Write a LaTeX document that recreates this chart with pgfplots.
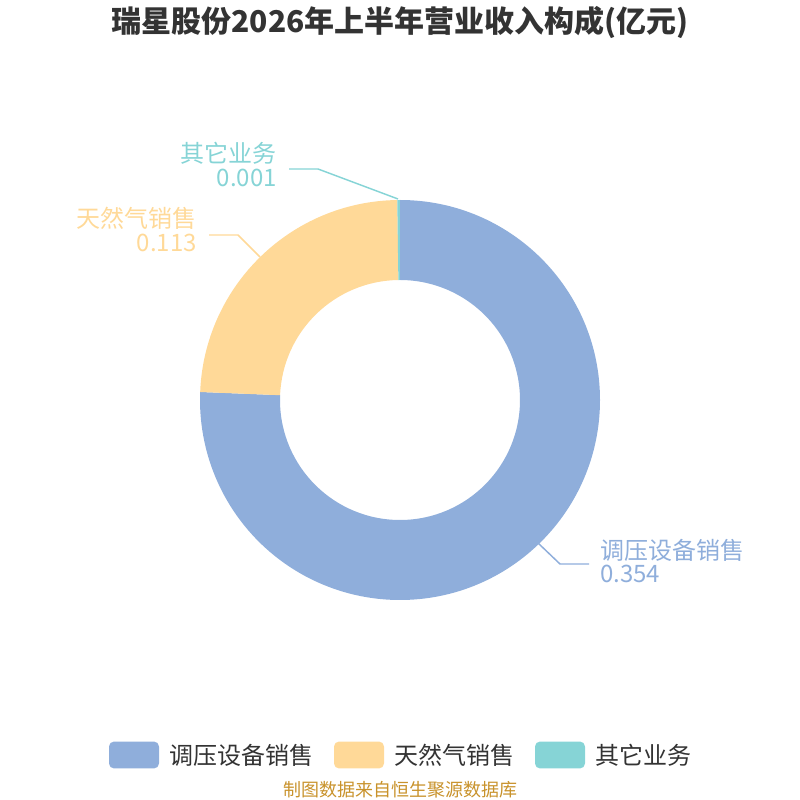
\documentclass[border=0pt]{standalone}
\usepackage{pgfplots}
\pgfplotsset{compat=1.18}
\usepackage{pgfplotstable}
\usepackage{fontspec}
\setmainfont{Noto Sans CJK SC}
\definecolor{cA}{HTML}{8FAEDB}
\definecolor{cB}{HTML}{FFD998}
\definecolor{cC}{HTML}{86D4D6}
\definecolor{txt}{HTML}{333333}
\definecolor{src}{HTML}{C8922B}
\pgfplotstableread{
idx value
0 0.354
1 0.113
2 0.001
}\datatable
\begin{document}
\begin{tikzpicture}
\pgfplotstablegetelem{0}{value}\of\datatable \let\va\pgfplotsretval
\pgfplotstablegetelem{1}{value}\of\datatable \let\vb\pgfplotsretval
\pgfplotstablegetelem{2}{value}\of\datatable \let\vc\pgfplotsretval
\pgfmathsetmacro\tot{\va+\vb+\vc}
\pgfmathsetmacro\aA{90}
\pgfmathsetmacro\aB{90-360*\va/\tot}
\pgfmathsetmacro\aC{\aB-360*\vb/\tot}
\pgfmathsetmacro\aD{\aC-360*\vc/\tot}
\useasboundingbox (0,0) rectangle (600pt,600pt);
\begin{axis}[
  width=600pt, height=600pt, scale only axis, hide axis, clip=false,
  xmin=0, xmax=800, ymin=0, ymax=800,
  legend columns=3,
  legend style={draw=none, fill=none, at={(0.5,0.05625)}, anchor=center,
    column sep=0pt,
    nodes={inner sep=0pt, font=\fontsize{18}{18}\selectfont, text=txt},
    /tikz/every even column/.append style={column sep=15.75pt}},
  legend image code/.code={\fill[#1, rounded corners=3.75pt] (0pt,-10.1pt) rectangle (37.5pt,10.1pt); \path (45pt,0pt);},
]
\addlegendimage{fill=cA, draw=none}
\addlegendentry{调压设备销售}
\addlegendimage{fill=cB, draw=none}
\addlegendentry{天然气销售}
\addlegendimage{fill=cC, draw=none}
\addlegendentry{其它业务}
% slices
\fill[cA] (axis cs:{400+200*cos(\aA)},{400+200*sin(\aA)}) arc[start angle=\aA, end angle=\aB, radius=150pt]
  -- (axis cs:{400+120*cos(\aB)},{400+120*sin(\aB)}) arc[start angle=\aB, end angle=\aA, radius=90pt] -- cycle;
\fill[cB] (axis cs:{400+200*cos(\aB)},{400+200*sin(\aB)}) arc[start angle=\aB, end angle=\aC, radius=150pt]
  -- (axis cs:{400+120*cos(\aC)},{400+120*sin(\aC)}) arc[start angle=\aC, end angle=\aB, radius=90pt] -- cycle;
\fill[cC] (axis cs:{400+200*cos(\aC)},{400+200*sin(\aC)}) arc[start angle=\aC, end angle=\aD, radius=150pt]
  -- (axis cs:{400+120*cos(\aD)},{400+120*sin(\aD)}) arc[start angle=\aD, end angle=\aC, radius=90pt] -- cycle;
% leader lines
\draw[cC, line width=1.1pt] (axis cs:398,601) -- (axis cs:318,631) -- (axis cs:289,631);
\draw[cB, line width=1.1pt] (axis cs:260,543) -- (axis cs:238,565) -- (axis cs:209,565);
\draw[cA, line width=1.1pt] (axis cs:538,257) -- (axis cs:560,236) -- (axis cs:589,236);
% labels
\node[anchor=base east, inner sep=0pt, text=cC, font=\fontsize{18}{18}\selectfont] at (axis cs:277,637) {其它业务};
\node[anchor=base east, inner sep=0pt, text=cC, font=\fontsize{18}{18}\selectfont] at (axis cs:277,613) {\vc};
\node[anchor=base east, inner sep=0pt, text=cB, font=\fontsize{18}{18}\selectfont] at (axis cs:197,572) {天然气销售};
\node[anchor=base east, inner sep=0pt, text=cB, font=\fontsize{18}{18}\selectfont] at (axis cs:197,548) {\vb};
\node[anchor=base west, inner sep=0pt, text=cA, font=\fontsize{18}{18}\selectfont] at (axis cs:600,240) {调压设备销售};
\node[anchor=base west, inner sep=0pt, text=cA, font=\fontsize{18}{18}\selectfont] at (axis cs:600,217) {\va};
% title and source
\node[text=txt, font=\fontsize{22.5}{22.5}\selectfont\bfseries, inner sep=0pt] at (axis cs:400,777) {瑞星股份2026年上半年营业收入构成(亿元)};
\node[text=src, font=\fontsize{13.5}{13.5}\selectfont, inner sep=0pt] at (axis cs:400,10) {制图数据来自恒生聚源数据库};
\end{axis}
\end{tikzpicture}
\end{document}
